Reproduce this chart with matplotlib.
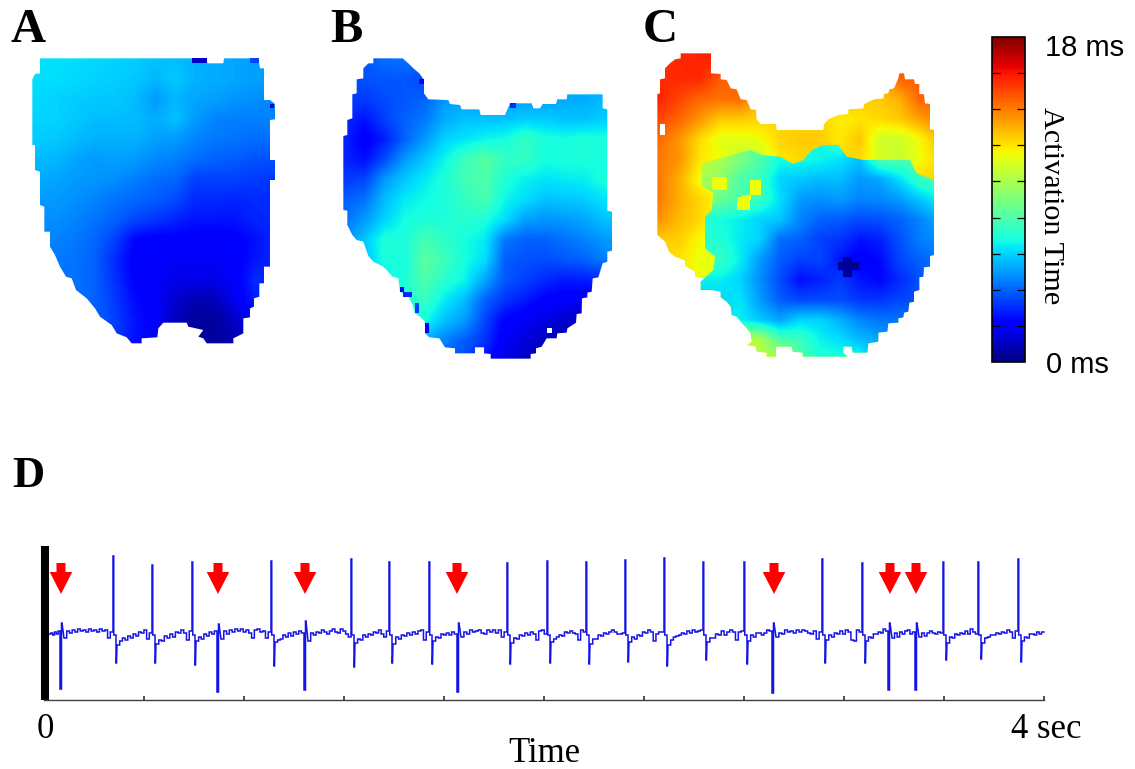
import numpy as np
import matplotlib
matplotlib.use("Agg")
import matplotlib.pyplot as plt
from matplotlib.patches import PathPatch, Rectangle, FancyArrow
from matplotlib.path import Path
from matplotlib.cm import ScalarMappable
from matplotlib.colors import Normalize

W, H = 1135, 769

# ---------- activation maps (ms) on a coarse grid ----------
map_a = [
 [6.2,6.2,6.2,6.1,6.0,5.9,5.7,5.6,5.4,5.3,5.2,5.1,5.0],
 [6.2,6.2,6.1,6.0,5.9,5.8,5.5,5.8,5.4,5.3,5.2,5.1,5.0],
 [6.1,6.0,5.9,5.8,5.8,5.6,5.0,5.5,5.2,5.1,4.9,4.8,4.6],
 [6.0,6.0,5.8,5.6,5.6,5.6,5.3,5.7,5.0,4.6,4.5,4.5,4.6],
 [5.9,5.8,5.6,5.4,5.4,5.4,5.1,5.0,4.6,4.4,4.3,4.2,4.2],
 [5.6,5.5,5.2,5.0,5.1,5.0,4.7,4.5,4.2,4.0,3.9,3.7,3.7],
 [5.3,5.2,5.0,4.9,4.8,4.5,4.2,4.1,3.4,3.4,3.4,3.3,3.2],
 [5.0,5.0,4.8,4.6,4.3,4.1,3.9,3.6,3.0,3.0,2.9,3.0,3.0],
 [4.8,4.8,4.6,4.3,4.0,3.5,3.2,2.9,2.6,2.6,2.6,2.9,3.0],
 [4.6,4.6,4.4,4.1,3.4,2.3,2.1,2.1,2.0,2.0,2.1,2.5,3.0],
 [4.5,4.4,4.3,4.0,3.0,2.1,2.0,1.9,1.9,1.9,2.0,2.6,3.0],
 [4.4,4.4,4.3,4.0,3.1,2.2,2.0,1.7,1.7,1.7,2.0,3.0,3.0],
 [4.4,4.4,4.3,4.0,3.3,2.4,2.0,1.3,0.8,0.9,1.8,2.8,3.0],
 [4.4,4.4,4.3,4.0,3.4,2.6,2.1,1.0,0.5,0.5,1.1,2.0,3.0],
 [4.0,4.0,4.0,3.6,3.3,2.5,2.2,1.0,0.5,0.5,0.8,1.0,3.0],
]
map_b = [
 [3.8,3.8,4.2,4.3,4.0,4.5,5.0,5.0,5.0,5.0,5.0,5.5,5.5,5.5],
 [3.7,3.7,3.8,3.8,3.6,4.0,5.0,5.0,5.0,5.0,5.0,5.5,5.5,5.5],
 [3.3,3.3,3.6,3.8,4.0,5.0,5.0,5.0,5.0,5.0,5.0,5.3,5.3,5.5],
 [3.0,2.6,3.4,4.0,4.4,5.3,5.7,5.7,5.7,5.9,5.9,5.7,5.7,5.9],
 [2.9,2.0,2.8,4.0,5.0,6.0,6.3,6.6,6.8,7.4,6.9,6.8,7.0,6.9],
 [2.9,2.5,3.6,5.0,5.8,6.6,7.6,8.2,7.4,7.4,6.8,6.9,6.9,6.8],
 [3.3,3.5,5.0,5.8,6.4,7.0,7.7,8.0,7.0,6.5,6.3,6.4,6.5,6.9],
 [3.9,4.3,5.6,6.4,6.7,6.9,7.4,7.9,6.6,6.2,5.7,5.8,5.9,6.3],
 [4.3,5.0,6.0,6.8,6.9,7.0,7.2,6.9,6.2,5.1,4.9,5.0,5.2,5.7],
 [4.7,5.8,7.0,6.9,7.8,7.3,6.8,6.4,4.4,4.0,4.0,4.3,4.6,5.0],
 [5.0,5.8,6.9,6.8,8.3,7.6,6.8,6.2,3.9,3.7,3.6,3.8,4.0,4.5],
 [5.0,6.0,6.5,7.0,8.0,7.2,6.6,5.2,3.8,3.4,3.0,2.7,2.8,3.0],
 [5.0,6.0,6.5,7.0,7.5,6.4,5.6,4.0,3.2,2.7,2.2,2.0,1.9,2.0],
 [5.0,6.0,6.5,6.8,6.8,5.7,5.0,3.5,2.2,1.9,1.6,1.3,1.0,1.0],
 [5.0,5.0,5.0,5.5,5.4,4.6,3.9,3.2,1.9,1.5,1.0,0.7,0.7,0.7],
 [5.0,5.0,5.0,5.5,4.6,3.9,3.6,2.5,1.6,1.1,0.8,0.7,0.7,0.7],
]
# panel C has two regions with a sharp front between them
map_c_warm = [
 [15.5,15.6,15.7,15.7,15.0,14.0,13.0,13.0,13.0,13.0,13.0,13.0,14.5,14.5,14.5],
 [15.5,15.6,15.6,14.6,14.5,14.0,13.0,13.0,13.0,13.0,13.0,13.0,14.5,14.6,14.5],
 [15.7,15.0,14.4,14.2,14.3,13.0,13.0,13.0,13.0,13.0,12.4,12.5,13.0,14.5,14.5],
 [15.0,14.4,13.5,12.5,12.5,12.3,12.3,12.3,12.3,11.8,12.0,12.2,12.5,13.3,14.0],
 [14.3,13.5,12.2,11.3,11.2,11.5,12.3,12.5,12.5,11.9,12.6,10.8,10.8,11.6,12.8],
 [14.0,13.5,12.0,11.5,10.5,10.5,12.0,12.2,12.2,12.2,12.2,11.0,10.6,11.5,12.3],
 [14.0,13.0,11.5,10.8,10.5,11.5,12.3,12.3,12.3,12.3,12.3,12.3,12.3,12.3,12.3],
 [14.0,13.0,12.3,11.5,10.5,11.5,12.3,12.3,12.3,12.3,12.3,12.3,12.3,12.3,12.3],
 [13.5,12.8,12.2,11.5,11.5,11.5,11.5,11.5,11.5,11.5,11.5,11.5,11.5,11.5,11.5],
 [12.5,12.4,11.6,11.4,11.5,11.5,11.5,11.5,11.5,11.5,11.5,11.5,11.5,11.5,11.5],
 [12.2,12.0,11.4,11.4,11.5,11.5,11.5,11.5,11.5,11.5,11.5,11.5,11.5,11.5,11.5],
 [12.0,12.0,11.5,11.4,11.5,11.5,11.5,11.5,11.5,11.5,11.5,11.5,11.5,11.5,11.5],
 [12.0,12.0,11.5,11.5,11.5,11.5,11.5,11.5,11.5,11.5,11.5,11.5,11.5,11.5,11.5],
 [11.5,11.5,11.5,11.5,11.5,11.5,11.5,11.5,11.5,11.5,11.5,11.5,11.5,11.5,11.5],
 [11.5,11.5,11.5,11.5,11.5,11.5,11.5,11.5,11.5,11.5,11.5,11.5,11.5,11.5,11.5],
 [11.5,11.5,11.5,11.5,11.5,11.5,11.5,11.5,11.5,11.5,11.5,11.5,11.5,11.5,11.5],
]
map_c_cool = [
 [10.5,10.5,10.5,10.0,9.0,8.0,6.8,6.8,6.6,7.0,7.0,8.0,8.0,8.0,8.0],
 [10.5,10.5,10.5,10.0,9.0,8.0,6.8,6.8,6.6,7.0,7.0,8.0,8.0,8.0,8.0],
 [10.5,10.5,10.5,10.0,9.0,8.0,6.8,6.8,6.6,7.0,7.0,8.0,8.0,8.0,8.0],
 [10.5,10.5,10.5,10.0,9.0,8.0,6.8,6.8,6.6,7.5,7.0,8.0,8.0,8.0,8.0],
 [10.5,10.5,10.5,10.0,9.0,8.0,6.8,6.8,6.6,7.5,6.5,8.0,8.0,8.0,8.0],
 [10.5,10.5,10.5,10.0,9.0,8.0,6.8,6.8,6.6,6.3,5.7,8.0,8.0,8.0,8.0],
 [10.0,10.0,10.0,9.5,8.0,7.5,6.0,5.8,5.6,5.6,5.0,5.2,6.2,7.5,8.0],
 [9.5,9.5,9.5,8.5,8.0,7.5,6.2,5.0,4.8,5.0,4.6,4.7,5.0,5.8,6.5],
 [7.0,7.0,7.0,6.8,6.5,6.0,5.8,4.6,4.0,3.9,3.6,3.7,4.0,4.6,5.3],
 [7.2,7.2,7.2,7.0,6.4,6.0,4.2,4.0,3.4,3.2,2.6,2.8,3.7,4.5,4.8],
 [7.5,7.5,7.5,7.5,6.5,5.0,3.9,3.4,3.5,2.6,2.0,2.4,3.5,4.0,4.4],
 [6.5,6.5,6.5,6.5,6.0,4.8,3.6,2.5,2.8,3.3,2.6,2.3,3.0,3.7,4.4],
 [6.0,6.0,6.0,6.0,6.3,5.0,3.9,3.5,3.6,3.6,3.2,3.2,3.5,3.7,4.0],
 [7.0,7.0,7.0,6.5,6.5,5.8,5.2,6.0,6.0,5.4,4.6,4.3,4.3,4.2,4.2],
 [7.0,7.0,7.0,10.2,10.2,10.2,8.0,7.6,6.6,6.2,5.6,5.2,5.0,5.0,5.0],
 [7.0,7.0,7.0,10.4,10.4,10.4,10.0,8.0,7.0,7.0,7.0,5.2,5.0,5.0,5.0],
]
a_origin, b_origin, c_origin = (35, 60), (345, 60), (660, 60)
cell = 20

outline_a = [(120,175),(620,175),(622,190),(670,190),(672,175),(775,175),(780,205),(792,205),(792,300),(810,300),(825,312),(825,358),(810,360),(810,480),(825,480),(825,540),(810,540),(810,800),(792,800),(792,850),(778,850),(778,890),(762,895),(762,920),(750,925),(750,952),(730,955),(730,1000),(700,1015),(700,1030),(640,1030),(620,1030),(610,1015),(595,1010),(610,990),(565,980),(560,968),(490,968),(475,985),(472,1012),(425,1015),(425,1030),(395,1030),(380,1012),(350,1000),(335,975),(300,950),(285,925),(260,895),(228,870),(215,835),(198,830),(180,800),(165,765),(150,740),(150,695),(133,695),(133,620),(120,615),(120,515),(105,510),(105,435),(97,435),(97,238),(105,222),(120,220)]
outline_b = [(160,175),(248,175),(265,190),(280,205),(298,220),(312,240),(312,280),(325,298),(385,300),(390,312),(420,315),(425,328),(478,328),(482,345),(555,345),(570,310),(635,310),(640,325),(660,325),(668,312),(708,312),(712,298),(740,298),(742,283),(848,283),(848,325),(862,328),(862,632),(876,635),(876,752),(862,755),(862,785),(848,790),(835,832),(818,835),(815,875),(802,878),(802,892),(786,895),(785,940),(770,942),(768,968),(742,985),(740,998),(712,1000),(710,1015),(680,1015),(665,1040),(648,1045),(648,1060),(632,1062),(632,1076),(512,1076),(512,1062),(492,1060),(492,1042),(465,1042),(465,1060),(405,1060),(405,1045),(375,1042),(358,1015),(328,1012),(315,1000),(315,965),(300,950),(285,940),(278,915),(265,890),(240,875),(235,835),(218,830),(190,800),(160,785),(145,768),(130,725),(110,720),(97,705),(82,675),(82,632),(70,630),(70,408),(82,405),(82,360),(97,355),(97,283),(110,280),(110,238),(130,235),(130,205),(145,190),(160,190)]
outline_c = [(152,160),(243,160),(243,220),(272,222),(272,238),(290,240),(302,265),(320,268),(332,298),(350,300),(362,328),(378,330),(380,358),(392,372),(438,372),(440,390),(580,390),(582,372),(595,358),(625,345),(655,342),(655,328),(700,325),(702,312),(732,298),(760,295),(762,282),(775,280),(778,268),(792,265),(805,235),(808,220),(822,220),(825,238),(852,238),(855,252),(868,252),(868,282),(882,283),(885,310),(900,312),(900,388),(912,390),(912,765),(900,768),(900,800),(882,802),(880,830),(868,832),(868,870),(852,875),(852,905),(838,908),(835,935),(822,938),(820,952),(805,955),(805,968),(775,970),(772,995),(745,998),(745,1025),(715,1030),(712,1058),(668,1058),(665,1040),(640,1040),(640,1058),(652,1070),(518,1070),(518,1058),(488,1055),(485,1040),(438,1040),(438,1070),(410,1070),(410,1058),(380,1055),(378,1040),(352,1035),(365,1025),(362,1000),(350,985),(332,965),(320,950),(305,945),(302,920),(290,905),(272,892),(272,875),(245,870),(212,870),(212,845),(225,835),(195,830),(195,815),(165,798),(165,782),(135,770),(117,755),(105,725),(82,705),(82,282),(90,280),(90,238),(105,235),(105,205),(120,190),(135,178),(152,175)]
front_c_top = [(215,490),(290,470),(360,450),(395,465),(450,470),(490,492),(520,480),(545,450),(580,435),(625,435),(650,470),(700,480),(840,480),(860,520),(912,540)]
front_c_left = [(250,810),(255,770),(225,745),(225,650),(245,630),(250,580),(215,555)]

cells_a = [(575,622,175,190,1.2),(750,778,175,190,3.5),(810,822,312,325,1.0)]
cells_b = [(298,312,238,252,2.0),(570,588,310,325,3.0),(315,326,968,1000,2.0),(240,252,860,875,2.0),(250,275,875,892,3.0),(285,297,910,940,3.5)]
cells_c = [(625,687,785,810,0.3),(640,665,770,830,0.3),(320,360,590,630,11.5),(335,362,585,600,11.5),(360,392,540,585,11.5),(245,290,530,570,11.5),(90,105,372,405,None)]
holes_b = [(680,695,983,1000,None)]

# ---------- trace D ----------
beat_time = [0.064,0.276,0.432,0.592,0.692,0.908,1.04,1.228,1.38,1.54,1.652,1.852,2.012,2.168,2.324,2.48,2.636,2.8,2.912,3.112,3.272,3.376,3.484,3.596,3.736,3.896]
beat_up   = [9,76,67,70,8,71,11,73,70,70,9,69,71,70,72,74,70,70,9,73,69,9,9,70,70,73]
beat_down = [-57,-31,-31,-33,-60,-34,-58,-35,-31,-32,-60,-32,-31,-32,-30,-34,-28,-32,-61,-31,-31,-58,-58,-28,-27,-30]
segments = [
 [-2,-1,-3,0,-2,1],
 [-6,1,-1,2,0,3,1,2,0,3,1,2,0,3,1,2,-6,0],
 [-13,-9,-6,-8,-4,-6,-2,-4,0,-1,2,-7,-1],
 [-12,-8,-9,-4,-6,-2,-5,0,-1,2,-1,-8,1],
 [-9,-5,-7,-2,-4,0,-2,1],
 [-7,1,-2,2,0,3,1,3,0,2,-1,-6,2,3,0,1,-6,0],
 [-10,-8,-7,-3,-5,-1,-4,0,-2,1,-1],
 [-9,-1,-3,0,-1,2,0,-2,1,3,0,-1,3,1,-2,-5],
 [-11,-7,-8,-3,-5,-2,-3,0,-1,2,-2,-5,1],
 [-12,-5,-7,-3,-4,-1,-3,0,-2,1,2,-8,0],
 [-9,-5,-6,-2,-3,-1,-3,0,-2],
 [-5,0,-2,2,0,1,2,-1,-2,2,0,2,-1,2,-5,0],
 [-11,-6,-7,-3,-4,-1,-3,0,-2,-8,1,2,-2],
 [-10,-7,-5,-3,-4,0,-1,1,-1,-2,-8,2,0],
 [-12,-7,-7,-3,-4,-1,-2,0,2,0,-2,-2,-1],
 [-10,-5,-7,-3,-4,0,-1,2,0,-9,-2,0,0],
 [-13,-8,-5,-4,-3,-1,-2,1,-1,2,0,1,2],
 [-10,-6,-6,-2,-3,1,-3,0,2,0,-8,0,1],
 [-9,-3,-5,-1,-1,-3,-1,2,1],
 [-5,-1,-2,2,0,1,-1,2,0,2,1,-1,-2,1,-7,0],
 [-8,-3,-5,-1,-2,1,-2,2,0,-8,-9,2,0],
 [-9,-5,-6,-2,-2,0,-1,3,1],
 [-6,-1,-5,0,-2,1,2,-2,0],
 [-5,-1,-4,-1,1,-1,-2,0,-1],
 [-11,-5,-6,-2,-3,-1,-2,1,-2,3,0,-2],
 [-11,-6,-5,-3,-3,-1,-2,0,-1,2,0,-6,1],
 [-9,-5,-6,-2,-2,-3,0,-2,0],
]
ectopic_times = [0.068,0.696,1.044,1.652,2.92,3.384,3.488]
duration = 4.0
tick_times = [0,0.4,0.8,1.2,1.6,2.0,2.4,2.8,3.2,3.6,4.0]
cbar_ticks = [2,4,6,8,10,12,14,16]

fig = plt.figure(figsize=(W/100, H/100), dpi=100, facecolor="white")
SERIF = "Liberation Serif"
SANS = "Liberation Sans"
cmap = plt.get_cmap("jet")
norm = Normalize(0, 18)

def pax(x0, y0, x1, y1, **kw):
    return fig.add_axes([x0/W, 1-y1/H, (x1-x0)/W, (y1-y0)/H], **kw)

def layer(ax, grid, origin, pts, xoff):
    g = np.array(grid, float)
    ox, oy = origin
    ext = (ox-cell/2, ox+cell*(g.shape[1]-.5), oy+cell*(g.shape[0]-.5), oy-cell/2)
    im = ax.imshow(g, cmap=cmap, norm=norm, extent=ext, origin="upper", aspect="auto",
                   interpolation="bilinear", interpolation_stage="data")
    ax.set_xlim(xoff, xoff+330)
    ax.set_ylim(400, 0)
    pp = [(x/3+xoff, y/3) for x, y in pts]
    patch = PathPatch(Path(pp + [pp[0]], closed=True), transform=ax.transData, fc="none", ec="none")
    ax.add_patch(patch)
    im.set_clip_path(patch)

def panel(xoff):
    ax = pax(xoff, 0, xoff+330, 400)
    ax.set_xlim(xoff, xoff+330)
    ax.set_ylim(400, 0)
    ax.axis("off")
    return ax

def add_cells(ax, cells, xoff):
    for x0, x1, y0, y1, v in cells:
        col = "white" if v is None else cmap(norm(v))
        ax.add_patch(Rectangle((x0/3+xoff, y0/3), (x1-x0)/3, (y1-y0)/3, fc=col, ec="none"))

ax_a = panel(0)
layer(ax_a, map_a, a_origin, outline_a, 0)
add_cells(ax_a, cells_a, 0)

ax_b = panel(320)
layer(ax_b, map_b, b_origin, outline_b, 320)
add_cells(ax_b, cells_b + holes_b, 320)

ax_c = panel(630)
layer(ax_c, map_c_warm, c_origin, outline_c, 630)
i0, i1 = outline_c.index((912, 765)), outline_c.index((212, 845))
cool_region = front_c_top + outline_c[i0:i1+1] + front_c_left
layer(ax_c, map_c_cool, c_origin, cool_region, 630)
add_cells(ax_c, cells_c, 630)

# colour bar
cax = pax(992, 37, 1025, 362)
cb = fig.colorbar(ScalarMappable(norm=norm, cmap=cmap), cax=cax)
cb.set_ticks(cbar_ticks)
cb.ax.tick_params(left=True, right=True, labelleft=False, labelright=False,
                  direction="in", length=6, width=0.9, color="black")
cb.outline.set_linewidth(1.2)

# trace
ax = pax(44, 546, 1044, 700)
ax.set_xlim(0, duration)
ax.set_ylim(-68, 86)
ax.set_facecolor("none")
for s in ("top", "right"):
    ax.spines[s].set_visible(False)
ax.spines["left"].set_linewidth(5.8)
ax.spines["left"].set_color("black")
ax.spines["left"].set_capstyle("butt")
ax.spines["left"].set_position(("outward", -0.7))
ax.spines["bottom"].set_linewidth(1.0)
ax.spines["bottom"].set_color("#404040")
ax.set_xticks(tick_times)
ax.set_xticklabels([])
ax.set_yticks([])
ax.tick_params(axis="x", direction="in", length=3, width=1.2, color="#303030")

xs, ys = [], []
starts = [0.02] + beat_time
ends = beat_time + [duration]
for i, seg in enumerate(segments):
    if i > 0:
        t, up, dn = beat_time[i-1], beat_up[i-1], beat_down[i-1]
        if up < 20:   # premature beat: deep needle first, small upstroke next to it
            xs += [t, t, t+0.006, t+0.006, t+0.008]
            ys += [ys[-1], dn, dn, up, up]
        else:         # paced beat: tall needle, then trough just after it
            xs += [t, t, t+0.003, t+0.003, t+0.012, t+0.012, t+0.014]
            ys += [ys[-1], up, up, -3, -3, dn, dn]
    lead = 0.016 if i else 0.0
    xx = np.linspace(starts[i] + lead, ends[i], len(seg) + 1)
    for k, v in enumerate(seg):
        xs += [xx[k], xx[k+1]]
        ys += [v, v]
ax.plot(xs, ys, color="#1414e6", lw=1.1, solid_joinstyle="miter", clip_on=False)

for t in ectopic_times:
    ax.add_patch(FancyArrow(t, 69, 0, -31, width=0.036, head_width=0.09, head_length=22,
                            length_includes_head=True, fc="#ff0000", ec="none"))

# text
for s, x, y, fs in [("A", 28, 30, 35), ("B", 346, 30, 35), ("C", 660, 30, 35), ("D", 28, 476, 32)]:
    fig.text(x/W, 1-y/H, s, family=SERIF, weight="bold", fontsize=fs, ha="center", va="center")
fig.text(1085/W, 1-48/H, "18 ms", family=SANS, fontsize=21, ha="center", va="center")
fig.text(1077/W, 1-365/H, "0 ms", family=SANS, fontsize=21, ha="center", va="center")
fig.text(1051/W, 1-206/H, "Activation Time", family=SERIF, fontsize=21.8, rotation=270, ha="center", va="center")
fig.text(45/W, 1-730/H, "0", family=SERIF, fontsize=25, ha="center", va="center")
fig.text(1046/W, 1-730/H, "4 sec", family=SERIF, fontsize=25, ha="center", va="center")
fig.text(544/W, 1-754/H, "Time", family=SERIF, fontsize=25, ha="center", va="center")

fig.savefig("out.png", dpi=100, facecolor="white")
